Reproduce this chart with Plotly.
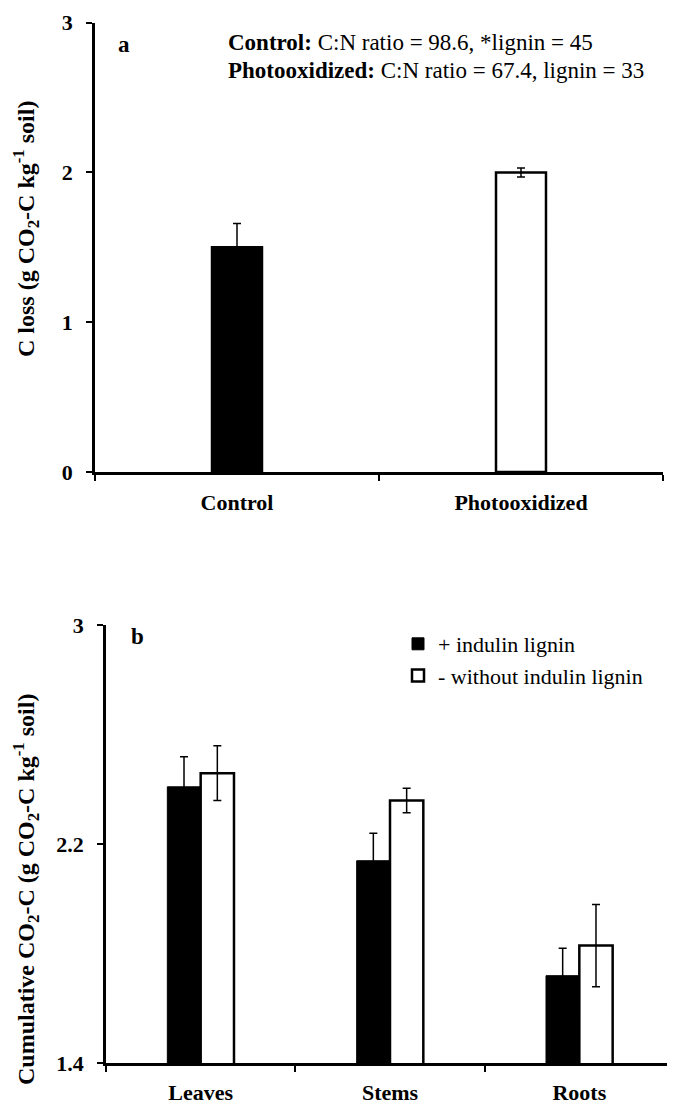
import plotly.graph_objects as go

# ---------------- data ----------------
# Panel a
a_categories = ["Control", "Photooxidized"]
a_values = [1.50, 2.00]
a_errors = [0.16, 0.03]
a_colors = ["black", "white"]
a_yticks = [0, 1, 2, 3]

# Panel b
b_categories = ["Leaves", "Stems", "Roots"]
b_with_lignin = [2.41, 2.14, 1.72]
b_with_err = [0.11, 0.10, 0.10]
b_without_lignin = [2.46, 2.36, 1.83]
b_without_err = [0.10, 0.045, 0.15]
b_yticks = [1.4, 2.2, 3]
b_names = ["+ indulin lignin", "- without indulin lignin"]

FONT = "Liberation Serif"
W, H = 675, 1104
OFF = 8  # page offset of the plot div inside the browser window


def px(x):
    return (x - OFF) / W


def py(y):
    return 1 - (y - OFF) / H


BW = 0.176
fig = go.Figure()

# Panel a bars
fig.add_trace(go.Bar(
    x=a_categories, y=a_values, width=BW,
    marker=dict(color=a_colors, line=dict(color="black", width=2.5)),
    error_y=dict(type="data", array=a_errors, color="black", thickness=1.5, width=4),
    showlegend=False, xaxis="x", yaxis="y",
))

# Panel b bars
fig.add_trace(go.Bar(
    x=b_categories, y=b_with_lignin, width=BW, offset=-BW, name=b_names[0],
    marker=dict(color="black", line=dict(color="black", width=1)),
    error_y=dict(type="data", array=b_with_err, color="black", thickness=1.5, width=4),
    xaxis="x2", yaxis="y2",
))
fig.add_trace(go.Bar(
    x=b_categories, y=b_without_lignin, width=BW, offset=0, name=b_names[1],
    marker=dict(color="white", line=dict(color="black", width=2.5)),
    error_y=dict(type="data", array=b_without_err, color="black", thickness=1.5, width=4),
    xaxis="x2", yaxis="y2",
))

axis_common = dict(
    showline=True, linecolor="black", linewidth=2.5,
    ticks="outside", ticklen=6, tickwidth=2, tickcolor="black",
    showgrid=False, zeroline=False, automargin=False,
    tickfont=dict(family=FONT, size=22, color="black", weight="bold"),
)

fig.update_layout(
    width=W, height=H, autosize=False,
    margin=dict(l=0, r=0, t=0, b=0),
    paper_bgcolor="white", plot_bgcolor="white",
    barmode="overlay",
    font=dict(family=FONT, color="black"),
    xaxis=dict(axis_common, domain=[px(95), px(663)], anchor="y",
               type="category", range=[-0.5, 1.5], tickson="boundaries",
               ticklabelstandoff=9),
    yaxis=dict(axis_common, domain=[py(472), py(22.7)], anchor="x",
               range=[0, 3], tickvals=a_yticks, ticklabelstandoff=9),
    xaxis2=dict(axis_common, domain=[px(106), px(674)], anchor="y2",
                type="category", range=[-0.5, 2.5], tickson="boundaries",
                ticklabelstandoff=8),
    yaxis2=dict(axis_common, domain=[py(1063.3), py(625.3)], anchor="x2",
                range=[1.4, 3], tickvals=b_yticks,
                ticktext=[str(v) for v in b_yticks], ticklabelstandoff=9),
    legend=dict(x=px(398), y=py(623), xanchor="left", yanchor="top",
                font=dict(family=FONT, size=22, color="black"),
                bgcolor="rgba(0,0,0,0)", traceorder="normal"),
)

annots = [
    dict(text="<b>Control:</b> C:N ratio = 98.6, *lignin = 45", x=px(226), y=py(43),
         xanchor="left", yanchor="middle", font=dict(size=23)),
    dict(text="<b>Photooxidized:</b> C:N ratio = 67.4, lignin = 33", x=px(226), y=py(71),
         xanchor="left", yanchor="middle", font=dict(size=23)),
    dict(text="<b>a</b>", x=px(124), y=py(45), xanchor="center", yanchor="middle",
         font=dict(size=23)),
    dict(text="<b>b</b>", x=px(137), y=py(636), xanchor="center", yanchor="middle",
         font=dict(size=23)),
    dict(text="<b>C loss (g CO<sub>2</sub>-C kg<sup>-1</sup> soil)</b>", x=px(26), y=py(229),
         textangle=-90, xanchor="center", yanchor="middle", font=dict(size=24)),
    dict(text="<b>Cumulative CO<sub>2</sub>-C (g CO<sub>2</sub>-C kg<sup>-1</sup> soil)</b>",
         x=px(26), y=py(890), textangle=-90, xanchor="center", yanchor="middle",
         font=dict(size=24)),
]
for a in annots:
    a.update(xref="paper", yref="paper", showarrow=False)
    a["font"].update(family=FONT, color="black")
fig.update_layout(annotations=annots)

fig.write_html("out.html")
